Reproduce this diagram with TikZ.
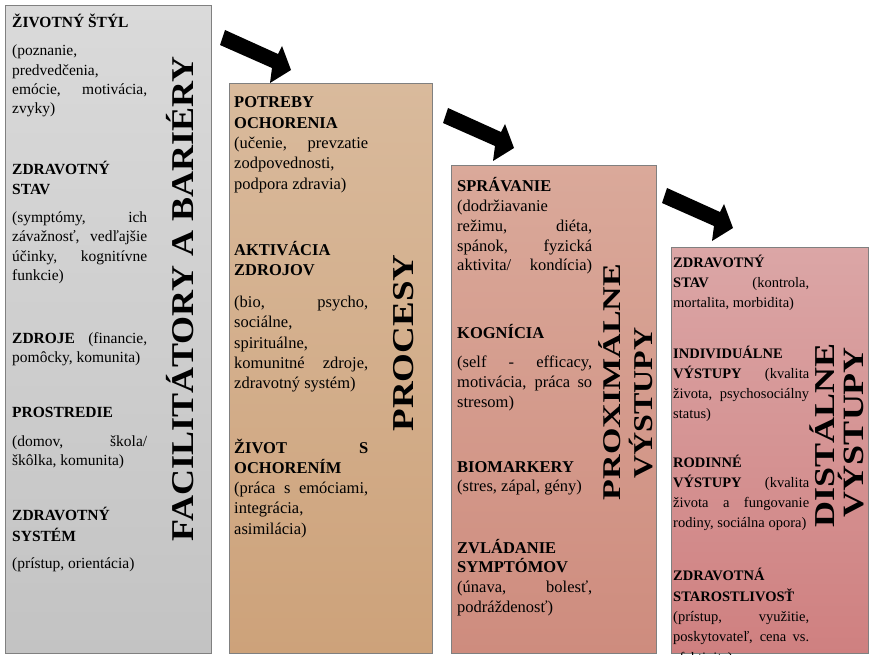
\documentclass[tikz,border=0pt]{standalone}
\usepackage{fontspec}
\setmainfont{Liberation Serif}
\usepackage{graphicx}
\usetikzlibrary{calc}
\definecolor{boxline}{HTML}{808080}
\definecolor{gAt}{HTML}{DADADA}
\definecolor{gAb}{HTML}{C3C3C3}
\definecolor{gBt}{HTML}{D9BA9C}
\definecolor{gBb}{HTML}{CDA27A}
\definecolor{gCt}{HTML}{DAA99A}
\definecolor{gCb}{HTML}{CE8C7E}
\definecolor{gDt}{HTML}{DBA6A6}
\definecolor{gDb}{HTML}{CF8080}
\newcommand\colblock[2]{\begin{minipage}[t]{#1}#2\end{minipage}}
\newcommand\barrowshape{\fill[black] (0,0) -- (53,24) -- (57,16) -- (66,40) -- (45,53) -- (47,38) -- (-5,15) -- cycle;}
\newcommand\ttltext[2]{\scalebox{1}[#1]{#2}}
\begin{document}
\begin{tikzpicture}[x=1pt,y=-1pt,
  box/.style={draw=boxline, line width=0.8pt, anchor=north west, inner sep=0pt},
  txt/.style={inner sep=0pt, anchor=base west},
  fA/.style={font=\fontsize{15.5}{19.3}\selectfont},
  fB/.style={font=\fontsize{16.5}{20.3}\selectfont},
  fC/.style={font=\fontsize{16.5}{19.7}\selectfont},
  fD/.style={font=\fontsize{14.5}{20.3}\selectfont},
  ttl/.style={inner sep=0pt, anchor=base, rotate=90}]
\useasboundingbox (0,0) rectangle (870,655);
% boxes
\node[box, minimum width=206pt, minimum height=648pt, top color=gAt, bottom color=gAb] (b1) at (5,5) {};
\node[box, minimum width=203pt, minimum height=570pt, top color=gBt, bottom color=gBb] (b2) at (229,83) {};
\node[box, minimum width=205pt, minimum height=488pt, top color=gCt, bottom color=gCb] (b3) at (451,165) {};
\node[box, minimum width=197pt, minimum height=406pt, top color=gDt, bottom color=gDb] (b4) at (671,247) {};
% arrows
\begin{scope}[shift={($(b2.north west)+(-4,-53)$)}]\barrowshape\end{scope}
\begin{scope}[shift={($(b3.north west)+(-3,-57)$)}]\barrowshape\end{scope}
\begin{scope}[shift={($(b4.north west)+(-4,-59)$)}]\barrowshape\end{scope}
% column 1
\node[txt,fA] (n11) at (12,28) {\colblock{135pt}{\textbf{ŽIVOTNÝ ŠTÝL}\\[8.5pt] (poznanie,\\ predvedčenia,\\ emócie, motivácia,\linebreak zvyky)}};
\node[txt,fA] (n12) at (12,175) {\colblock{135pt}{\textbf{ZDRAVOTNÝ}\\ \textbf{STAV}\\[9pt] (symptómy, ich\linebreak závažnosť, vedľajšie\linebreak účinky, kognitívne\linebreak funkcie)}};
\node[txt,fA] (n13) at (12,343) {\colblock{135pt}{\textbf{ZDROJE} (financie,\linebreak pomôcky, komunita)}};
\node[txt,fA] (n14) at (12,417) {\colblock{135pt}{\textbf{PROSTREDIE}\\[10pt] (domov, škola/\linebreak škôlka, komunita)}};
\node[txt,fA] (n15) at (12,520) {\colblock{135pt}{\textbf{ZDRAVOTNÝ}\\[2pt] \textbf{SYSTÉM}\\[8pt] (prístup, orientácia)}};
\node[ttl, font=\fontsize{36}{36}\selectfont\bfseries] (t1) at (193,299) {\ttltext{0.88}{FACILITÁTORY A BARIÉRY}};
% column 2
\node[txt,fB] (n21) at (234,108) {\colblock{134pt}{\textbf{POTREBY}\\ \textbf{OCHORENIA}\\ (učenie, prevzatie\linebreak zodpovednosti,\\ podpora zdravia)}};
\node[txt,fB] (n22) at (234,255) {\colblock{134pt}{\textbf{AKTIVÁCIA}\\ \textbf{ZDROJOV}\\[12pt] (bio, psycho,\linebreak sociálne,\\ spirituálne,\\ komunitné zdroje,\linebreak zdravotný systém)}};
\node[txt,fB] (n23) at (234,453) {\colblock{134pt}{\textbf{ŽIVOT S}\linebreak \textbf{OCHORENÍM}\\ (práca s emóciami,\linebreak integrácia,\\ asimilácia)}};
\node[ttl, font=\fontsize{37}{37}\selectfont\bfseries] (t2) at (413,343) {\ttltext{0.82}{PROCESY}};
% column 3
\node[txt,fC] (n31) at (457,192) {\colblock{135pt}{\textbf{SPRÁVANIE}\\ (dodržiavanie\\ režimu, diéta,\linebreak spánok, fyzická\linebreak \makebox[\linewidth][s]{aktivita/ kondícia)}}};
\node[txt,fC] (n32) at (457,338) {\colblock{135pt}{\textbf{KOGNÍCIA}\\[10pt] (self - efficacy,\linebreak motivácia, práca so\linebreak stresom)}};
\node[txt,fC] (n33) at (457,472) {\colblock{135pt}{\textbf{BIOMARKERY}\\ (stres, zápal, gény)}};
\node[txt,fC] (n34) at (457,553) {\colblock{135pt}{\textbf{ZVLÁDANIE}\\ \textbf{SYMPTÓMOV}\\ (únava, bolesť,\linebreak podráždenosť)}};
\node[ttl, font=\fontsize{34}{34}\selectfont\bfseries] (t3a) at (620,382) {\ttltext{0.75}{PROXIMÁLNE}};
\node[ttl, font=\fontsize{32}{32}\selectfont\bfseries] (t3b) at (652,403) {\ttltext{0.85}{VÝSTUPY}};
% column 4
\node[txt,fD] (n41) at (673,267) {\colblock{136pt}{\textbf{ZDRAVOTNÝ}\\ \textbf{STAV} (kontrola,\linebreak mortalita, morbidita)}};
\node[txt,fD] (n42) at (673,358) {\colblock{136pt}{\textbf{INDIVIDUÁLNE}\\ \textbf{VÝSTUPY} (kvalita\linebreak života, psychosociálny\linebreak status)}};
\node[txt,fD] (n43) at (673,467) {\colblock{136pt}{\textbf{RODINNÉ}\\ \textbf{VÝSTUPY} (kvalita\linebreak života a fungovanie\linebreak rodiny, sociálna opora)}};
\node[txt,fD] (n44) at (673,580) {\colblock{136pt}{\textbf{ZDRAVOTNÁ}\\[1pt] \textbf{STAROSTLIVOSŤ}\\ (prístup, využitie,\linebreak poskytovateľ, cena vs.\linebreak efektivita)}};
\node[ttl, font=\fontsize{36}{36}\selectfont\bfseries] (t4a) at (834,435) {\ttltext{0.8}{DISTÁLNE}};
\node[ttl, font=\fontsize{36}{36}\selectfont\bfseries] (t4b) at (863,432) {\ttltext{0.82}{VÝSTUPY}};
\end{tikzpicture}
\end{document}
